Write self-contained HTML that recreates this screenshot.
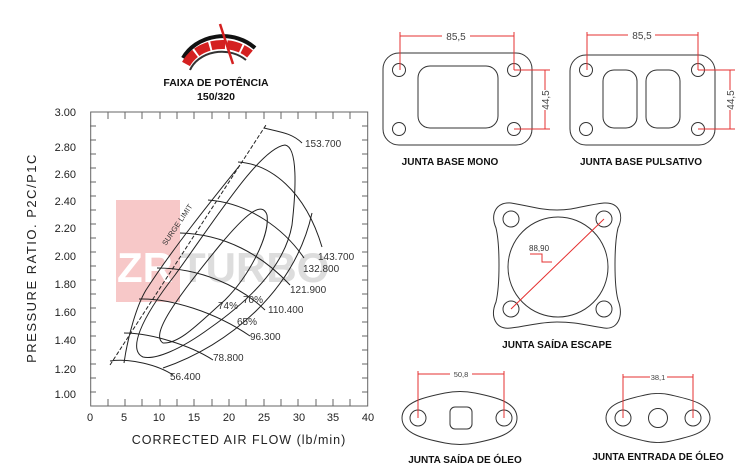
<!DOCTYPE html>
<html><head><meta charset="utf-8"><style>
html,body{margin:0;padding:0;background:#fff;}
svg{display:block;font-family:"Liberation Sans",Arial,sans-serif;}
.b{font-weight:bold;font-size:10px;fill:#111;}
</style></head><body>
<svg width="743" height="473" viewBox="0 0 743 473" xmlns="http://www.w3.org/2000/svg">
<!-- gauge -->
<g>
<path d="M183,58 A45,40 0 0 1 255,48" fill="none" stroke="#111" stroke-width="4"/>
<path d="M186,64 A40,34 0 0 1 250,54" fill="none" stroke="#d42020" stroke-width="9" stroke-dasharray="14,2"/>
<path d="M190,70 A34,28 0 0 1 246,60" fill="none" stroke="#333" stroke-width="2"/>
<line x1="220" y1="24" x2="233" y2="64" stroke="#d42020" stroke-width="2.5"/>
<text x="216" y="86" text-anchor="middle" class="b" style="font-size:10.5px">FAIXA DE POTÊNCIA</text>
<text x="216" y="100" text-anchor="middle" class="b" style="font-size:10.5px">150/320</text>
</g>
<!-- watermark -->
<rect x="116" y="200" width="64" height="102" fill="#f7c8c8"/>
<text x="117" y="282" font-size="42" font-weight="bold" fill="#fff">ZR</text>
<text x="180" y="282" font-size="42" font-weight="bold" fill="#ddd">TURBO</text>
<!-- chart frame -->
<rect x="90.7" y="112" width="277" height="294" fill="none" stroke="#666" stroke-width="1"/>
<g stroke="#666" stroke-width="1">
<path d="M90,126H96M90,140H96M90,154H96M90,168H96M90,182H96M90,196H96M90,210H96M90,224H96M90,238H96M90,252H96M90,266H96M90,280H96M90,294H96M90,308H96M90,322H96M90,336H96M90,350H96M90,364H96M90,378H96M90,392H96"/>
<path d="M368,126H362M368,140H362M368,154H362M368,168H362M368,182H362M368,196H362M368,210H362M368,224H362M368,238H362M368,252H362M368,266H362M368,280H362M368,294H362M368,308H362M368,322H362M368,336H362M368,350H362M368,364H362M368,378H362M368,392H362"/>
<path d="M108,406V399M125,406V399M142,406V399M160,406V399M177,406V399M194,406V399M212,406V399M229,406V399M246,406V399M264,406V399M281,406V399M298,406V399M316,406V399M333,406V399M350,406V399"/>
<path d="M108,112V119M125,112V119M142,112V119M160,112V119M177,112V119M194,112V119M212,112V119M229,112V119M246,112V119M264,112V119M281,112V119M298,112V119M316,112V119M333,112V119M350,112V119"/>
</g>
<g font-size="11" fill="#222" text-anchor="end">
<text x="76" y="116">3.00</text><text x="76" y="151">2.80</text><text x="76" y="178">2.60</text><text x="76" y="205">2.40</text><text x="76" y="232">2.20</text><text x="76" y="260">2.00</text><text x="76" y="288">1.80</text><text x="76" y="316">1.60</text><text x="76" y="344">1.40</text><text x="76" y="373">1.20</text><text x="76" y="398">1.00</text>
</g>
<g font-size="11" fill="#222" text-anchor="middle">
<text x="90" y="421">0</text><text x="124" y="421">5</text><text x="159" y="421">10</text><text x="194" y="421">15</text><text x="229" y="421">20</text><text x="264" y="421">25</text><text x="299" y="421">30</text><text x="333" y="421">35</text><text x="368" y="421">40</text>
</g>
<text x="239" y="444" font-size="12.5" fill="#222" text-anchor="middle" letter-spacing="1">CORRECTED AIR FLOW (lb/min)</text>
<text transform="translate(36,258) rotate(-90)" font-size="13" fill="#222" text-anchor="middle" letter-spacing="1.5">PRESSURE RATIO. P2C/P1C</text>
<!-- curves -->
<g fill="none" stroke="#222" stroke-width="1">
<path d="M110,365 L266,125" stroke-dasharray="4,2"/>
<path d="M264,128 C280,132 292,133 302,143"/>
<path d="M110,361 C130,358 158,365 173,375"/>
<path d="M124,333 C150,333 190,345 213,360"/>
<path d="M139,299 C170,298 215,312 250,336"/>
<path d="M157,268 C200,268 240,286 265,310"/>
<path d="M180,233 C225,234 262,255 290,285"/>
<path d="M208,200 C250,203 285,230 304,258"/>
<path d="M238,162 C270,164 305,190 322,247"/>
<path d="M163,343 C150,335 175,300 220,245 C245,215 262,200 267,215 C270,235 250,275 225,300 C200,322 180,344 163,343 Z"/>
<path d="M143,357 C128,350 140,320 175,275 C215,220 260,148 285,145 C298,147 296,190 292,225 C285,265 250,300 210,328 C180,350 155,360 143,357 Z"/>
<path d="M163,368 C230,345 295,290 312,213"/>
<path d="M124,363 C128,335 137,305 146,290 C175,245 220,190 240,165"/>
</g>
<g font-size="10" fill="#333">
<text x="305" y="147">153.700</text><text x="318" y="260">143.700</text><text x="303" y="272">132.800</text><text x="290" y="293">121.900</text><text x="268" y="313">110.400</text><text x="250" y="340">96.300</text><text x="213" y="361">78.800</text><text x="170" y="380">56.400</text>
<text x="218" y="309">74%</text><text x="243" y="303">70%</text><text x="237" y="325">65%</text>
<text transform="translate(166,246) rotate(-56)" font-size="7.5">SURGE LIMIT</text>
</g>
<!-- MONO -->
<g fill="none" stroke="#333" stroke-width="1">
<rect x="383" y="53" width="149" height="92" rx="16"/>
<circle cx="399" cy="70" r="6.5"/><circle cx="514" cy="70" r="6.5"/><circle cx="399" cy="129" r="6.5"/><circle cx="514" cy="129" r="6.5"/>
<rect x="418" y="66" width="80" height="62" rx="12"/>
<rect x="570" y="55" width="145" height="90" rx="16"/>
<circle cx="586" cy="70" r="6.5"/><circle cx="698" cy="70" r="6.5"/><circle cx="586" cy="129" r="6.5"/><circle cx="698" cy="129" r="6.5"/>
<rect x="603" y="70" width="34" height="58" rx="11"/><rect x="646" y="70" width="34" height="58" rx="11"/>
</g>
<g stroke="#e53030" stroke-width="1" fill="none">
<path d="M400,32V70M514,32V70M400,36H442M470,36H514M514,70H550M514,129H550M545,70V90M545,110V129"/>
<path d="M587,32V70M698,32V70M587,35H628M655,35H698M698,70H735M698,129H735M730,70V90M730,110V129"/>
</g>
<g font-size="10" fill="#444">
<text x="456" y="40" text-anchor="middle">85,5</text><text x="642" y="39" text-anchor="middle">85,5</text>
<text transform="translate(549,100) rotate(-90)" text-anchor="middle">44,5</text>
<text transform="translate(734,100) rotate(-90)" text-anchor="middle">44,5</text>
</g>
<text x="450" y="165" text-anchor="middle" class="b">JUNTA BASE MONO</text>
<text x="641" y="165" text-anchor="middle" class="b">JUNTA BASE PULSATIVO</text>
<!-- escape -->
<g fill="none" stroke="#333" stroke-width="1">
<path d="M511,203 C530,206 540,210 557,210 C575,210 585,205 604,203 C620,202 624,216 618,228 C614,245 614,285 618,300 C624,316 618,330 604,328 C585,325 575,322 557,322 C540,322 528,326 511,328 C495,330 490,316 496,302 C500,285 500,245 496,228 C490,214 496,202 511,203 Z"/>
<circle cx="558" cy="267" r="50"/>
<circle cx="511" cy="219" r="8"/><circle cx="604" cy="219" r="8"/><circle cx="511" cy="309" r="8"/><circle cx="604" cy="309" r="8"/>
</g>
<g stroke="#e53030" stroke-width="1" fill="none"><path d="M511,309 L604,219M530,254H542V262H552"/></g>
<text x="529" y="251" font-size="8" fill="#333">88,90</text>
<text x="557" y="348" text-anchor="middle" class="b">JUNTA SAÍDA ESCAPE</text>
<!-- oil out -->
<g fill="none" stroke="#333" stroke-width="1">
<path d="M402,418 C402,402 425,397 445,393 C455,391 465,391 475,393 C495,397 517,402 517,418 C517,434 495,439 475,443 C465,445 455,445 445,443 C425,439 402,434 402,418 Z"/>
<circle cx="418" cy="418" r="8"/><circle cx="504" cy="418" r="8"/><rect x="450" y="407" width="22" height="22" rx="5"/>
<path d="M606,418 C606,403 628,399 645,395 C653,393 663,393 671,395 C688,399 710,403 710,418 C710,433 688,437 671,441 C663,443 653,443 645,441 C628,437 606,433 606,418 Z"/>
<circle cx="623" cy="418" r="8"/><circle cx="693" cy="418" r="8"/><circle cx="658" cy="418" r="9.5"/>
</g>
<g stroke="#e53030" stroke-width="1" fill="none">
<path d="M418,371V418M504,371V418M418,374H450M472,374H504"/>
<path d="M623,374V418M693,374V418M623,377H650M667,377H693"/>
</g>
<text x="461" y="377" font-size="7.5" fill="#444" text-anchor="middle">50,8</text>
<text x="658" y="380" font-size="7.5" fill="#444" text-anchor="middle">38,1</text>
<text x="465" y="463" text-anchor="middle" class="b">JUNTA SAÍDA DE ÓLEO</text>
<text x="658" y="460" text-anchor="middle" class="b">JUNTA ENTRADA DE ÓLEO</text>
</svg>
</body></html>
